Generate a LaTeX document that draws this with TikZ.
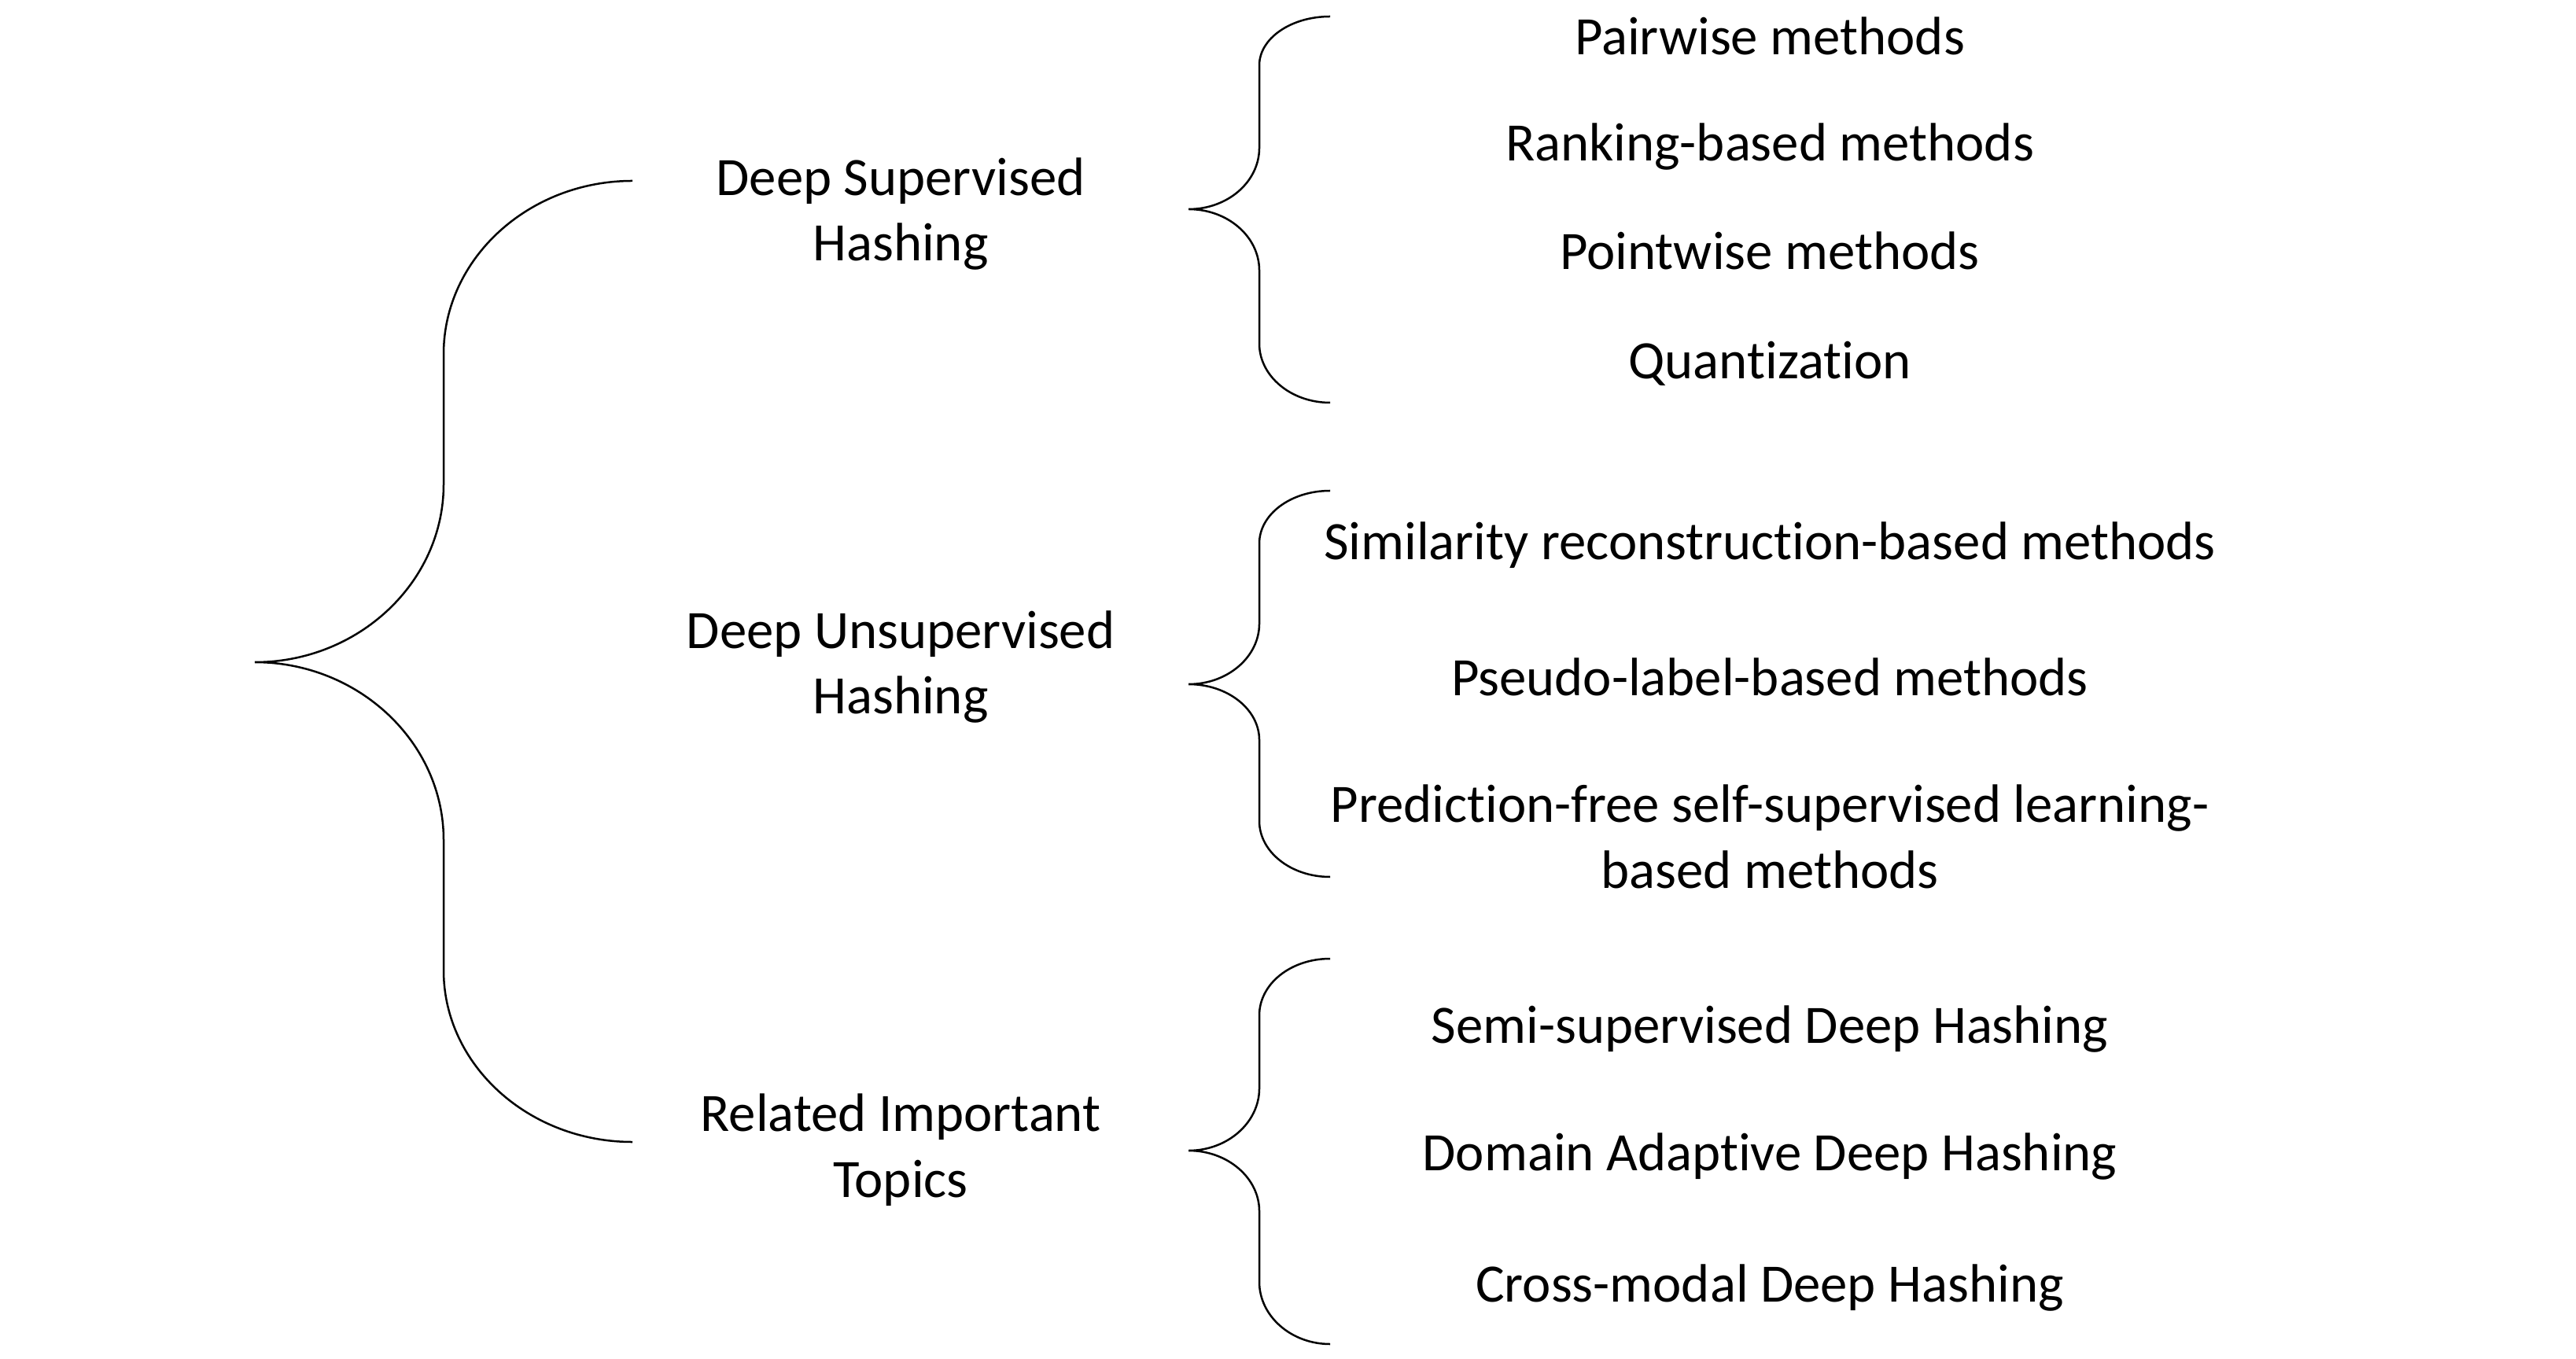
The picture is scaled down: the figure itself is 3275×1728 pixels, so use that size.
\documentclass[tikz,border=0pt]{standalone}
\usepackage{fontspec}
\setmainfont{Carlito}[Ligatures=NoCommon]

\tikzset{every picture/.style={line width=0.4pt}}
\tikzset{
label text/.style={anchor=base,inner sep=0pt,align=center,font=\fontsize{11}{13.4}\selectfont}}

\begin{document}
\begin{tikzpicture}[x=0.16pt,y=0.16pt,yscale=-1,xscale=1]
\path[use as bounding box] (0,0) rectangle (3275,1728); %set diagram to the size of the reference

%Shape: Brace [id:big]
\draw   (804,230) .. controls (672,230) and (564,329) .. (564,450) -- (564,616) .. controls (564,740) and (456,842) .. (324,842) .. controls (456,842) and (564,944) .. (564,1068) -- (564,1234) .. controls (564,1354) and (672,1452) .. (804,1452) ;
%Shape: Brace [id:supervised]
\draw   (1691,21) .. controls (1641,21) and (1601,49) .. (1601,83) -- (1601,188) .. controls (1601,231) and (1561,266) .. (1511,266) .. controls (1561,266) and (1601,301) .. (1601,344) -- (1601,437) .. controls (1601,478) and (1641,512) .. (1691,512) ;
%Shape: Brace [id:unsupervised]
\draw   (1691,624) .. controls (1641,624) and (1601,654) .. (1601,691) -- (1601,793) .. controls (1601,835) and (1561,870) .. (1511,870) .. controls (1561,870) and (1601,902) .. (1601,941) -- (1601,1044) .. controls (1601,1083) and (1641,1115) .. (1691,1115) ;
%Shape: Brace [id:related]
\draw   (1691,1219) .. controls (1641,1219) and (1601,1251) .. (1601,1291) -- (1601,1384) .. controls (1601,1427) and (1561,1463) .. (1511,1463) .. controls (1561,1463) and (1601,1498) .. (1601,1540) -- (1601,1630) .. controls (1601,1673) and (1641,1709) .. (1691,1709) ;

% Text Node (base = last line)
\draw (1145,332) node [label text] (dsh) {Deep Supervised\\Hashing};
% Text Node
\draw (1145,908) node [label text] (duh) {Deep Unsupervised\\Hashing};
% Text Node
\draw (1145,1522) node [label text] (rit) {Related Important\\Topics};

% Text Node
\draw (2250,70) node [label text] (pair) {Pairwise methods};
% Text Node
\draw (2250,205) node [label text] (rank) {Ranking-based methods};
% Text Node
\draw (2250,343) node [label text] (point) {Pointwise methods};
% Text Node
\draw (2250,482) node [label text] (quant) {Quantization};
% Text Node
\draw (2250,712) node [label text] (simrec) {Similarity reconstruction-based methods};
% Text Node
\draw (2250,885) node [label text] (pseudo) {Pseudo-label-based methods};
% Text Node
\draw (2250,1129) node [label text] (predfree) {Prediction-free self-supervised learning-\\based methods};
% Text Node
\draw (2250,1326) node [label text] (semi) {Semi-supervised Deep Hashing};
% Text Node
\draw (2250,1488) node [label text] (domain) {Domain Adaptive Deep Hashing};
% Text Node
\draw (2250,1655) node [label text] (cross) {Cross-modal Deep Hashing};

\end{tikzpicture}
\end{document}
